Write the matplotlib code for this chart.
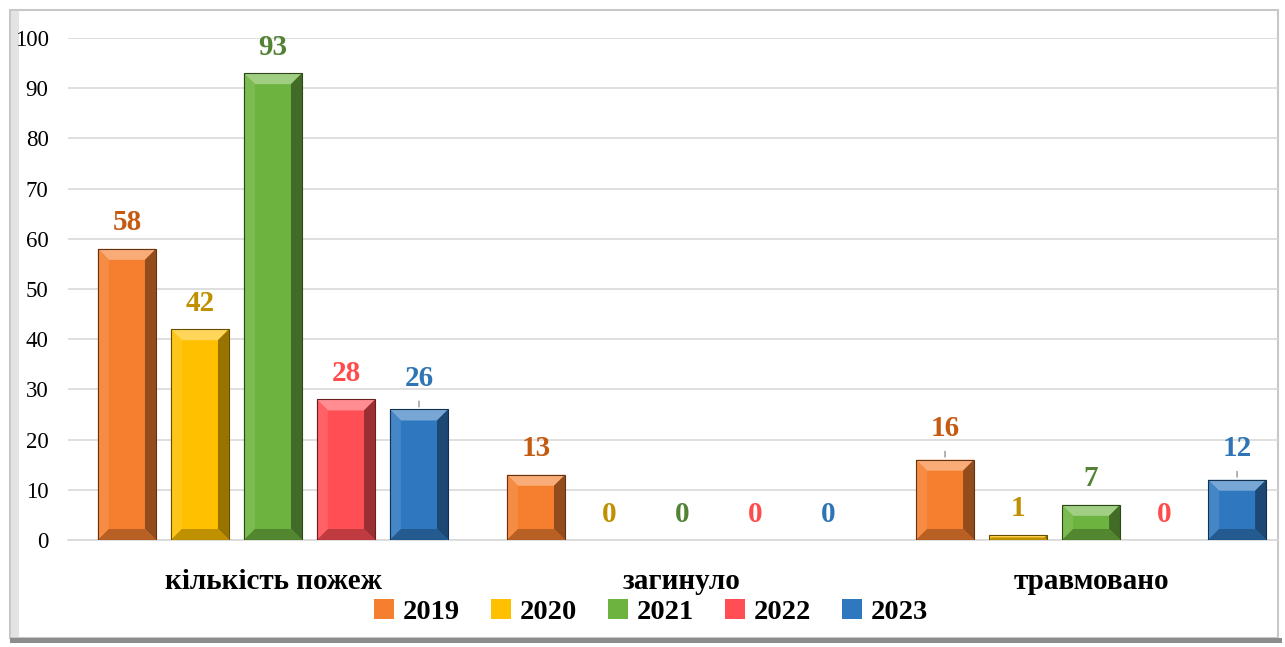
import numpy as np
import matplotlib.pyplot as plt
from matplotlib.patches import Polygon, Rectangle
from matplotlib.colors import to_rgb

plt.rcParams['font.family'] = ['Liberation Serif', 'DejaVu Serif']

# DATA
categories = ["кількість пожеж", "загинуло", "травмовано"]
years = ["2019", "2020", "2021", "2022", "2023"]
v2019 = [58, 13, 16]
v2020 = [42, 0, 1]
v2021 = [93, 0, 7]
v2022 = [28, 0, 0]
v2023 = [26, 0, 12]
series = [v2019, v2020, v2021, v2022, v2023]
y_ticks = list(range(0, 101, 10))

# STYLE
bar_colors = ["#F57F2F", "#FFC000", "#6DB33F", "#FF4F55", "#2F78C0"]
label_colors = ["#C55A11", "#BF9000", "#548235", "#FF4B4B", "#2E75B6"]
# labels pulled a little higher, with a short leader line (series, group)
lifted = {(4, 0), (0, 2), (4, 2)}

W, H = 1285, 647
fig = plt.figure(figsize=(W / 100, H / 100), dpi=100)

# chart frame with a soft bevel
fig.patches.append(Rectangle((10 / W, 9 / H), 1268 / W, 628 / H, transform=fig.transFigure,
                             facecolor="white", edgecolor="#C8C8C8", linewidth=1.5, zorder=-3))
fig.patches.append(Rectangle((11 / W, 10 / H), 8 / W, 626 / H, transform=fig.transFigure,
                             facecolor="#E3E3E3", edgecolor="none", zorder=-2))
fig.patches.append(Rectangle((10 / W, 4 / H), 1272 / W, 5 / H, transform=fig.transFigure,
                             facecolor="#8C8C8C", edgecolor="none", zorder=-2))

ax = fig.add_axes([68 / W, 107 / H, 1210 / W, 502 / H])
ax.set_facecolor("none")
ax.set_xlim(-0.501, 2.457)
ax.set_ylim(0, 100)

px_x = ax.bbox.width / (2.457 + 0.501)
px_y = ax.bbox.height / 100.0


def shade(c, f):
    r = np.array(to_rgb(c))
    if f > 0:
        return tuple(r + (1 - r) * f)
    return tuple(r * (1 + f))


def bevel(rect, color):
    x0, y0 = rect.get_x(), rect.get_y()
    x1, y1 = x0 + rect.get_width(), y0 + rect.get_height()
    hpx = rect.get_height() * px_y
    b = min(11.0, hpx / 2.0)
    bx, by = b / px_x, b / px_y
    faces = [
        ([(x0, y1), (x1, y1), (x1 - bx, y1 - by), (x0 + bx, y1 - by)], 0.35),
        ([(x0, y0), (x0, y1), (x0 + bx, y1 - by), (x0 + bx, y0 + by)], 0.1),
        ([(x1, y0), (x1, y1), (x1 - bx, y1 - by), (x1 - bx, y0 + by)], -0.4),
        ([(x0, y0), (x1, y0), (x1 - bx, y0 + by), (x0 + bx, y0 + by)], -0.25),
    ]
    for pts, f in faces:
        ax.add_patch(Polygon(pts, closed=True, facecolor=shade(color, f),
                             edgecolor="none", zorder=3))
    ax.add_patch(Rectangle((x0, y0), x1 - x0, y1 - y0, facecolor="none",
                           edgecolor=shade(color, -0.6), linewidth=0.8, zorder=4))


x = np.arange(len(categories))
step, width = 0.1785, 0.142
handles = []
for i, (vals, yr) in enumerate(zip(series, years)):
    pos = x + (i - 2) * step
    bars = ax.bar(pos, vals, width, color=bar_colors[i], zorder=2, label=yr)
    handles.append(bars)
    for j, (r, v) in enumerate(zip(bars, vals)):
        if v > 0:
            bevel(r, bar_colors[i])
        lift = 26
        if (i, j) in lifted:
            lift = 31
            ax.annotate("", xy=(r.get_x() + width / 2, v), xytext=(0, 11),
                        textcoords="offset pixels",
                        arrowprops=dict(arrowstyle="-", color="#A6A6A6", lw=1.2))
        ax.annotate(str(v), (r.get_x() + width / 2, v), xytext=(0, lift),
                    textcoords="offset pixels", ha="center", va="center",
                    fontsize=21, fontweight="bold", color=label_colors[i],
                    annotation_clip=False, zorder=5)

ax.set_yticks(y_ticks)
ax.tick_params(axis="y", length=0, labelsize=16.5, pad=14)
ax.set_xticks(x)
ax.set_xticklabels(categories, fontsize=21, fontweight="bold")
ax.tick_params(axis="x", length=0, pad=20)
ax.grid(axis="y", color="#D9D9D9", linewidth=1.2, zorder=0)
for s in ["top", "right", "left"]:
    ax.spines[s].set_visible(False)
ax.spines["bottom"].set_color("#D9D9D9")
ax.spines["bottom"].set_linewidth(1.2)

leg = fig.legend(handles=handles, labels=years, loc="center", ncol=5,
                 bbox_to_anchor=(651 / W, 1 - 612 / H), frameon=False,
                 prop={"size": 20.5, "weight": "bold"}, handlelength=0.7,
                 handleheight=0.7, handletextpad=0.3, columnspacing=1.1)

fig.savefig("out.png", dpi=100)
